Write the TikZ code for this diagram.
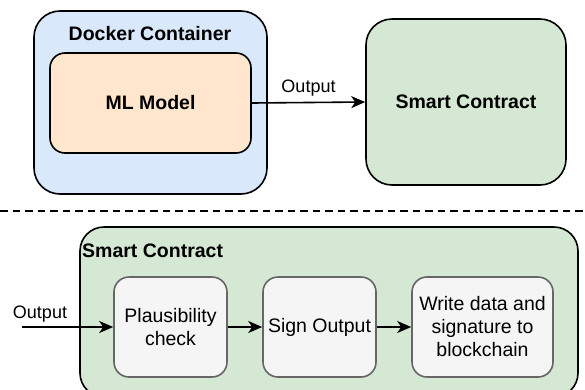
\documentclass[tikz,border=0pt]{standalone}
\usepackage{fontspec}
\setmainfont{Liberation Sans}
\usetikzlibrary{arrows.meta}
\definecolor{dblue}{HTML}{DAE8FC}
\definecolor{dorange}{HTML}{FFE6CC}
\definecolor{dgreen}{HTML}{D5E8D4}
\definecolor{dgrey}{HTML}{F5F5F5}
\definecolor{dstroke}{HTML}{666666}
\tikzset{
  box/.style={draw=black, line width=1.6pt, rectangle, inner sep=0pt, align=center,
    font=\fontsize{19.5}{23}\selectfont\bfseries},
  stepbox/.style={draw=dstroke, fill=dgrey, line width=1.6pt, rectangle, rounded corners=15pt,
    inner sep=0pt, align=center, minimum height=100pt, font=\fontsize{19.5}{23}\selectfont},
  lbl/.style={font=\fontsize{18}{21}\selectfont, inner sep=0pt},
  conn/.style={line width=1.6pt, -{Stealth[length=14pt,width=12pt,inset=4pt]}},
}
\begin{document}
\begin{tikzpicture}[x=1pt,y=-1pt]
\useasboundingbox (0,0) rectangle (585,389);
\clip (0,0) rectangle (585,389);
% top part
\node[box, fill=dblue, rounded corners=26pt, minimum width=233pt, minimum height=183pt] (docker) at (150.5,102.5) {};
\node[font=\fontsize{19.5}{23}\selectfont\bfseries, inner sep=0pt] (dockertitle) at (150,34) {Docker Container};
\node[box, fill=dorange, rounded corners=15pt, minimum width=201pt, minimum height=100pt] (ml) at (150.5,103) {ML Model};
\node[box, fill=dgreen, rounded corners=26pt, minimum width=200pt, minimum height=166pt] (sc) at (466,102) {Smart Contract};
\draw[conn] (ml.east) -- (sc.west) node[lbl, pos=0.5, above=5pt] (outlbl) {Output};
% separator
\coordinate (dl) at (0,211);
\coordinate (dr) at (585,211);
\draw[line width=1.6pt, dash pattern=on 7.5pt off 5pt] (dl) -- (dr);
% bottom part
\node[box, fill=dgreen, rounded corners=24pt, minimum width=498pt, minimum height=170pt] (scb) at (329,312) {};
\node[font=\fontsize{19.5}{23}\selectfont\bfseries, inner sep=0pt, anchor=west] (scbtitle) at (82,251) {Smart Contract};
\node[stepbox, minimum width=113pt] (plaus) at (170.5,327) {Plausibility\\check};
\node[stepbox, minimum width=113pt] (sign) at (319.5,327) {Sign Output};
\node[stepbox, minimum width=141pt] (write) at (482.5,327) {Write data and\\signature to\\blockchain};
\coordinate (in) at (22,327);
\draw[conn] (in) -- (plaus.west);
\node[lbl] (inlbl) at (40,314) {Output};
\draw[conn] (plaus.east) -- (sign.west);
\draw[conn] (sign.east) -- (write.west);
\end{tikzpicture}
\end{document}
